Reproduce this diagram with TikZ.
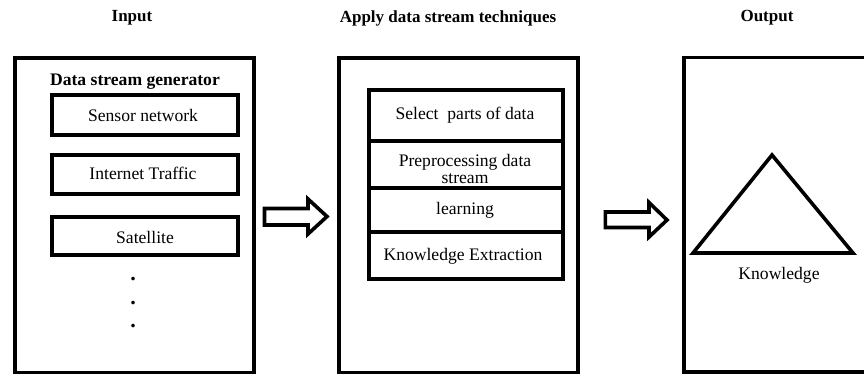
\documentclass[tikz,border=0pt]{standalone}
\usepackage{fontspec}
\setmainfont{Liberation Serif}
\begin{document}
\begin{tikzpicture}[x=1pt,y=-1pt,
  title/.style={font=\fontsize{17}{19}\selectfont\bfseries, inner sep=0pt},
  txt/.style={font=\fontsize{17.6}{18}\selectfont, inner sep=0pt, align=center},
  dot/.style={font=\fontsize{22}{22}\selectfont\bfseries, inner sep=0pt},
  outer/.style={draw, line width=3.8pt},
  inner/.style={draw, line width=3.8pt},
  blockarrow/.style={draw, line width=3.6pt, line join=miter, fill=white}]
\useasboundingbox (0,0) rectangle (864,376);
\clip (0,0) rectangle (864,376);
% titles
\node[title] (tin) at (132,18) {Input};
\node[title] (tmid) at (448,18) {Apply data stream techniques};
\node[title] (tout) at (767,18) {Output};
% outer boxes
\draw[outer] (15.3,58) rectangle (253.7,372.5);
\draw[outer] (339,58) rectangle (578.3,372.5);
\draw[outer] (684,57.5) rectangle (880,372);
% input box contents
\node[txt,font=\fontsize{17.6}{18}\selectfont\bfseries] (gen) at (135,82) {Data stream generator};
\draw[inner] (52,95.3) rectangle (238,134.7);
\node[txt] (sensor) at (143,115) {Sensor network};
\draw[inner] (52,155.3) rectangle (238,194);
\node[txt] (inet) at (143,173) {Internet Traffic};
\draw[inner] (52,217) rectangle (238,255.3);
\node[txt] (sat) at (145,237) {Satellite};
\node[dot] (d1) at (133,279) {.};
\node[dot] (d2) at (133,303) {.};
\node[dot] (d3) at (133,326) {.};
% middle stack
\draw[inner] (369,90) rectangle (563.3,141);
\draw[inner] (369,141) rectangle (563.3,188.3);
\draw[inner] (369,188.3) rectangle (563.3,231.7);
\draw[inner] (369,231.7) rectangle (563.3,278.7);
\node[txt] (sel) at (465,115) {Select\ \ parts of data};
\node[txt] (pre) at (465,169) {Preprocessing data\\[-1pt]stream};
\node[txt] (learn) at (465,210) {learning};
\node[txt] (ke) at (463,256) {Knowledge Extraction};
% block arrows
\draw[blockarrow] (264.5,208.5) -- (308,208.5) -- (308,199) -- (327,216.5) -- (308,234) -- (308,225) -- (264.5,225) -- cycle;
\draw[blockarrow] (605.3,212) -- (649,212) -- (649,202.5) -- (667,220) -- (649,237) -- (649,227.5) -- (605.3,227.5) -- cycle;
% triangle
\draw[line width=3.6pt, line join=miter] (772,155) -- (853,253) -- (693,253) -- cycle;
\node[txt] (know) at (779,275) {Knowledge};
\end{tikzpicture}
\end{document}
